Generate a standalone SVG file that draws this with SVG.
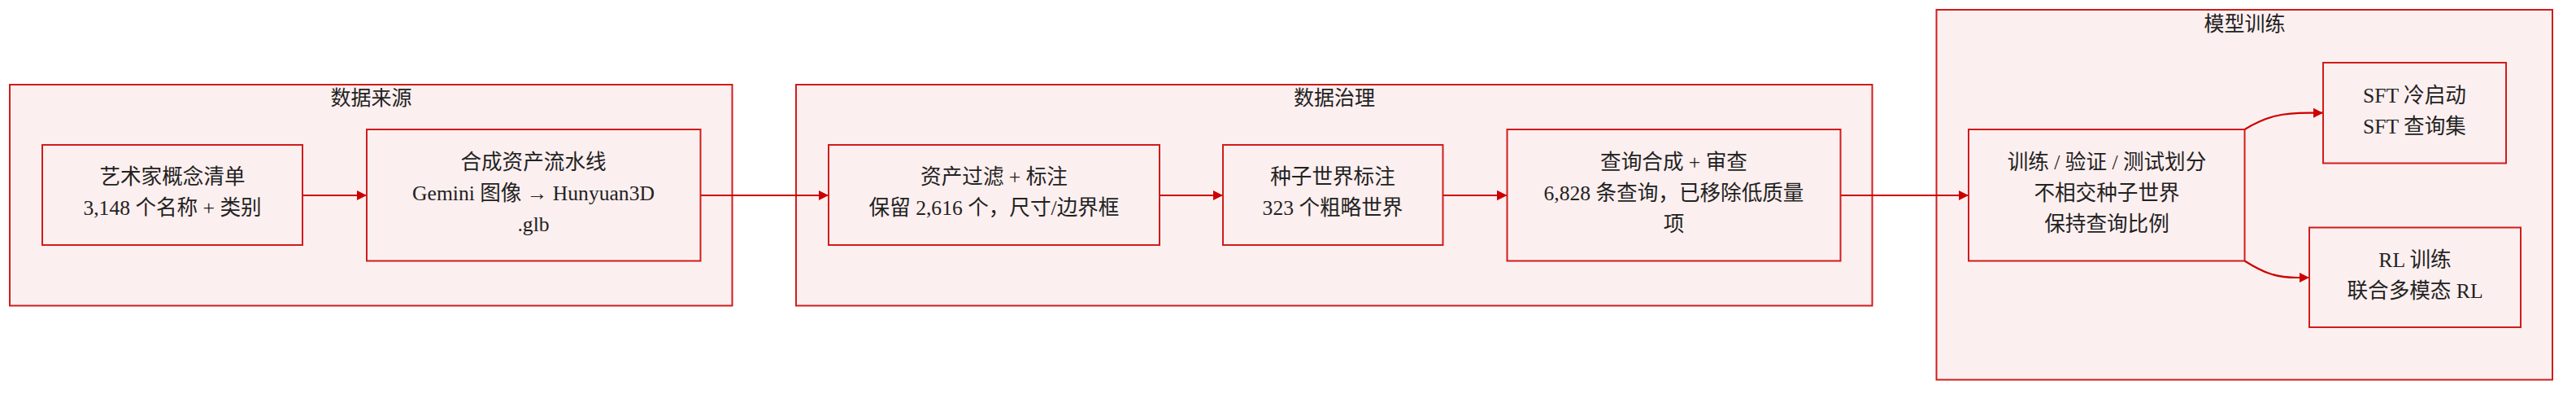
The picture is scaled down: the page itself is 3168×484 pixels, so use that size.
<svg xmlns="http://www.w3.org/2000/svg" width="3168" height="484" viewBox="0 0 3168 484">
<style>
.cl{fill:#fcefef;stroke:#d01c1c;stroke-width:2}
.nd{fill:#fcefef;stroke:#d01c1c;stroke-width:2}
.t{font-family:"Liberation Serif","Noto Sans CJK SC",serif;font-size:25.6px;fill:#222;text-anchor:middle}
.ct{font-family:"Noto Sans CJK SC","Liberation Sans",sans-serif;font-size:25px;fill:#222;text-anchor:middle}
.e{fill:none;stroke:#cc0000;stroke-width:2.2}
</style>
<defs>
<marker id="ah" markerUnits="userSpaceOnUse" markerWidth="13" markerHeight="13" refX="12.5" refY="6.25" orient="auto">
<path d="M0,0 L12.5,6.25 L0,12.5 z" fill="#cc0000"/>
</marker>
</defs>
<rect width="3168" height="484" fill="#ffffff"/>
<g id="cluster-sources">
<rect class="cl" x="12" y="104" width="888.5" height="271.5"/>
<text class="ct" x="456.5" y="128.6">数据来源</text>
</g>
<g id="cluster-governance">
<rect class="cl" x="979" y="104" width="1323.5" height="271.5"/>
<text class="ct" x="1641" y="128.6">数据治理</text>
</g>
<g id="cluster-training">
<rect class="cl" x="2381.5" y="12" width="757.5" height="454.5"/>
<text class="ct" x="2760.5" y="38.3">模型训练</text>
</g>
<g id="edges">
<path class="e" d="M372,240 L451,240" marker-end="url(#ah)"/>
<path class="e" d="M861.5,240 L1019,240" marker-end="url(#ah)"/>
<path class="e" d="M1426,240 L1504,240" marker-end="url(#ah)"/>
<path class="e" d="M1774.5,240 L1853.5,240" marker-end="url(#ah)"/>
<path class="e" d="M2263.5,240 L2421,240" marker-end="url(#ah)"/>
<path class="e" d="M2760.5,159 C2788,142 2808,138.7 2840,138.7 L2857,138.7" marker-end="url(#ah)"/>
<path class="e" d="M2760.5,320.5 C2785,336 2800,341 2825,341 L2840,341" marker-end="url(#ah)"/>
</g>
<g id="node-concepts">
<rect class="nd" x="52" y="178" width="320" height="123"/>
<text class="t" x="212" y="226">艺术家概念清单</text>
<text class="t" x="212" y="264">3,148 个名称 + 类别</text>
</g>
<g id="node-pipeline">
<rect class="nd" x="451" y="159" width="410.5" height="161.5"/>
<text class="t" x="656" y="207.5">合成资产流水线</text>
<text class="t" x="656" y="246">Gemini 图像 → Hunyuan3D</text>
<text class="t" x="656" y="284">.glb</text>
</g>
<g id="node-filter">
<rect class="nd" x="1019" y="178" width="407" height="123"/>
<text class="t" x="1222.5" y="226">资产过滤 + 标注</text>
<text class="t" x="1222.5" y="264">保留 2,616 个，尺寸/边界框</text>
</g>
<g id="node-seed">
<rect class="nd" x="1504" y="178" width="270.5" height="123"/>
<text class="t" x="1639" y="226">种子世界标注</text>
<text class="t" x="1639" y="264">323 个粗略世界</text>
</g>
<g id="node-query">
<rect class="nd" x="1853.5" y="159" width="410" height="161.5"/>
<text class="t" x="2058.5" y="207.5">查询合成 + 审查</text>
<text class="t" x="2058.5" y="246">6,828 条查询，已移除低质量</text>
<text class="t" x="2058.5" y="284">项</text>
</g>
<g id="node-split">
<rect class="nd" x="2421" y="159" width="339.5" height="161.5"/>
<text class="t" x="2591" y="207.5">训练 / 验证 / 测试划分</text>
<text class="t" x="2591" y="246">不相交种子世界</text>
<text class="t" x="2591" y="284">保持查询比例</text>
</g>
<g id="node-sft">
<rect class="nd" x="2857" y="77" width="225" height="123.5"/>
<text class="t" x="2969.5" y="126">SFT 冷启动</text>
<text class="t" x="2969.5" y="164">SFT 查询集</text>
</g>
<g id="node-rl">
<rect class="nd" x="2840" y="279.5" width="260" height="122.5"/>
<text class="t" x="2970" y="327.7">RL 训练</text>
<text class="t" x="2970" y="366">联合多模态 RL</text>
</g>
</svg>
